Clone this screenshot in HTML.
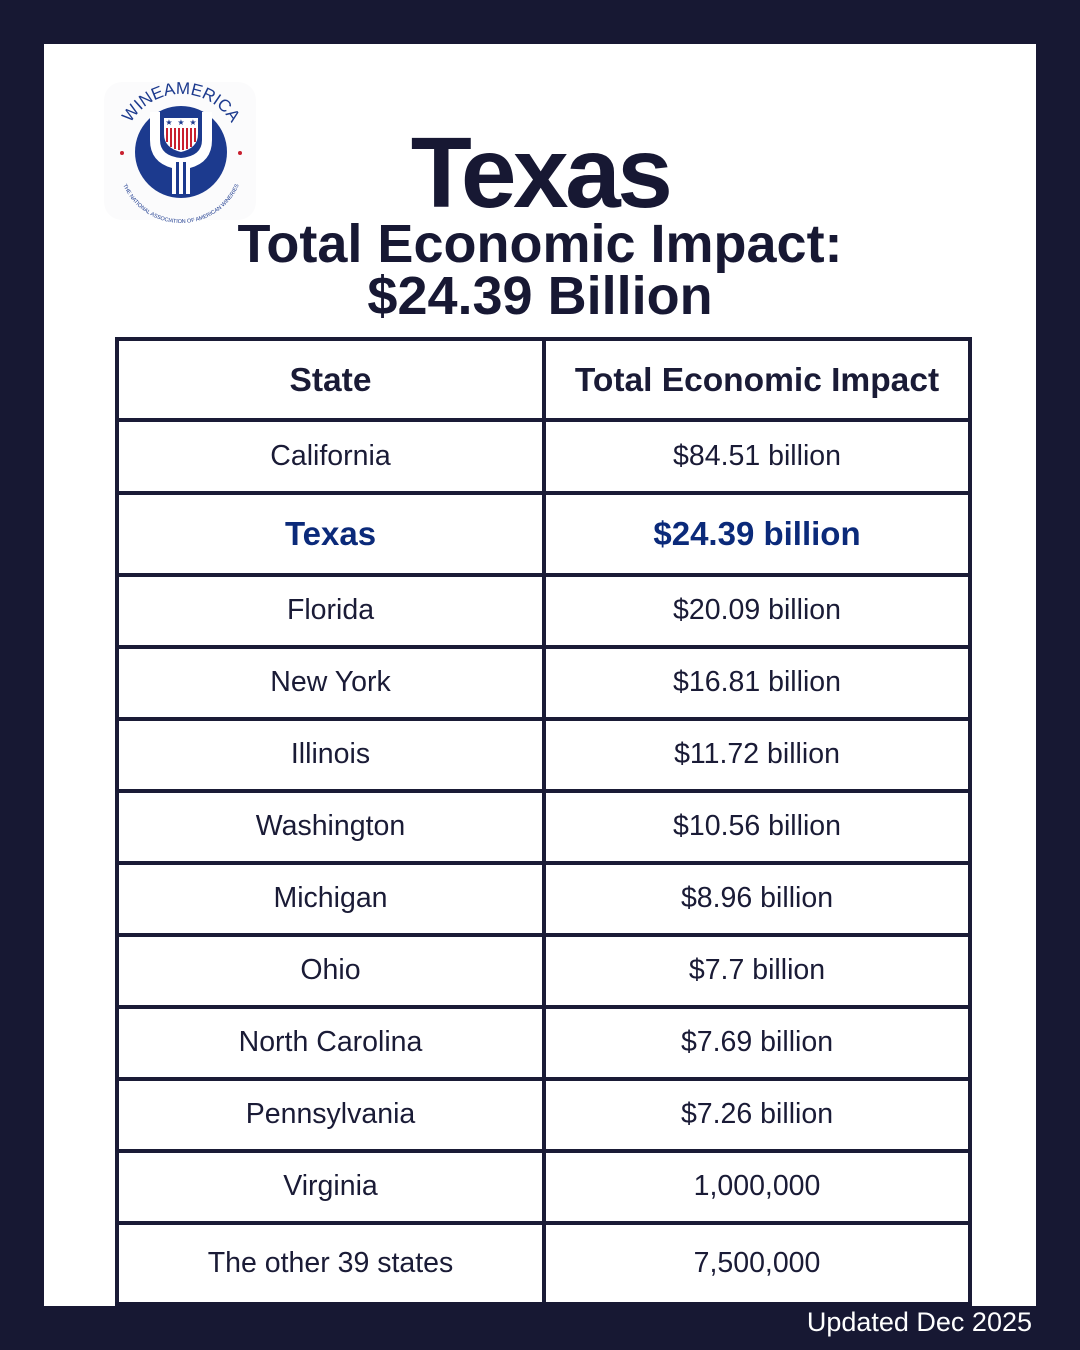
<!DOCTYPE html>
<html>
<head>
<meta charset="utf-8">
<style>
  html, body { margin:0; padding:0; }
  body { width:1080px; height:1350px; background:#171833; position:relative; overflow:hidden;
         font-family:"Liberation Sans", "DejaVu Sans", sans-serif; color:#1a1b36; }
  .abs { position:absolute; }
  .panel { left:44px; top:44px; width:992px; height:1262px; background:#ffffff; }
  .hl { position:absolute; left:115px; width:857px; height:4px; background:#1a1b36; }
  .vl { position:absolute; top:337px; width:4px; height:970px; background:#1a1b36; }
  .cell { position:absolute; text-align:center; white-space:nowrap; }
  .c1 { left:119px; width:423px; }
  .c2 { left:546px; width:422px; }
  .body { font-size:28.5px; line-height:40px; }
  .head { font-size:33.5px; font-weight:bold; line-height:40px; }
  .tx { font-size:33px; font-weight:bold; line-height:40px; color:#0b2a7a; }
</style>
</head>
<body>
<div class="abs panel"></div>

<!-- Logo -->
<svg class="abs" style="left:100px;top:78px" width="160" height="145" viewBox="100 78 160 145">
  <defs>
    <path id="arcTop" d="M 123,152 A 58 58 0 0 1 239,152"/>
    <path id="arcBot" d="M 118,160 A 63 63 0 0 0 244,160"/>
  </defs>
  <rect x="104" y="82" width="152" height="138" rx="18" fill="#fbfbfc"/>
  <circle cx="181" cy="152" r="46" fill="#1c3a8e"/>
  <!-- glass outline -->
  <path d="M150,112 L150,140 Q150,162 172,168 L172,194 L190,194 L190,168 Q212,162 212,140 L212,112 L202,112 L202,140 Q202,156 181,158 Q160,156 160,140 L160,112 Z" fill="#ffffff"/>
  <rect x="176" y="162" width="3" height="32" fill="#1c3a8e"/>
  <rect x="183" y="162" width="3" height="32" fill="#1c3a8e"/>
  <!-- shield -->
  <path d="M164,118 L198,118 L198,134 Q198,148 181,152 Q164,148 164,134 Z" fill="#ffffff"/>
  <g fill="#c8202f">
    <rect x="166" y="128" width="2" height="14"/>
    <rect x="170" y="128" width="2" height="19"/>
    <rect x="174" y="128" width="2" height="21"/>
    <rect x="178" y="128" width="2" height="22"/>
    <rect x="182" y="128" width="2" height="22"/>
    <rect x="186" y="128" width="2" height="21"/>
    <rect x="190" y="128" width="2" height="19"/>
    <rect x="194" y="128" width="2" height="14"/>
  </g>
  <g fill="#1c3a8e" font-size="8" font-family="DejaVu Sans, sans-serif" text-anchor="middle">
    <text x="169" y="125">★</text><text x="181" y="125">★</text><text x="193" y="125">★</text>
  </g>
  <circle cx="122" cy="153" r="2" fill="#c8202f"/>
  <circle cx="240" cy="153" r="2" fill="#c8202f"/>
  <text font-family="Liberation Sans, sans-serif" font-size="17" fill="#1c3a8e">
    <textPath href="#arcTop" startOffset="50%" text-anchor="middle">WINEAMERICA</textPath>
  </text>
  <text font-family="Liberation Sans, sans-serif" font-size="5.5" fill="#1c3a8e">
    <textPath href="#arcBot" startOffset="50%" text-anchor="middle">THE NATIONAL ASSOCIATION OF AMERICAN WINERIES</textPath>
  </text>
</svg>

<!-- Titles -->
<div class="abs" style="left:240px;width:600px;top:118px;text-align:center;font-size:100px;font-weight:bold;line-height:110px;letter-spacing:-3.5px;color:#171833;">Texas</div>
<div class="abs" style="left:140px;width:800px;top:218px;text-align:center;font-size:54px;font-weight:bold;line-height:52px;color:#171833;">Total Economic Impact:<br>$24.39 Billion</div>

<!-- Table lines -->
<div class="hl" style="top:337px"></div>
<div class="hl" style="top:418px"></div>
<div class="hl" style="top:491px"></div>
<div class="hl" style="top:573px"></div>
<div class="hl" style="top:645px"></div>
<div class="hl" style="top:717px"></div>
<div class="hl" style="top:789px"></div>
<div class="hl" style="top:861px"></div>
<div class="hl" style="top:933px"></div>
<div class="hl" style="top:1005px"></div>
<div class="hl" style="top:1077px"></div>
<div class="hl" style="top:1149px"></div>
<div class="hl" style="top:1221px"></div>
<div class="vl" style="left:115px"></div>
<div class="vl" style="left:542px"></div>
<div class="vl" style="left:968px"></div>
<div class="abs" style="left:115px;top:1302px;width:857px;height:10px;background:#171833"></div>

<!-- Header -->
<div class="cell c1 head" style="top:361px">State</div>
<div class="cell c2 head" style="top:361px">Total Economic Impact</div>

<!-- Rows -->
<div class="cell c1 body" style="top:436px">California</div>
<div class="cell c2 body" style="top:436px">$84.51 billion</div>

<div class="cell c1 tx" style="top:514px">Texas</div>
<div class="cell c2 tx" style="top:514px">$24.39 billion</div>

<div class="cell c1 body" style="top:590px">Florida</div>
<div class="cell c2 body" style="top:590px">$20.09 billion</div>

<div class="cell c1 body" style="top:662px">New York</div>
<div class="cell c2 body" style="top:662px">$16.81 billion</div>

<div class="cell c1 body" style="top:734px">Illinois</div>
<div class="cell c2 body" style="top:734px">$11.72 billion</div>

<div class="cell c1 body" style="top:806px">Washington</div>
<div class="cell c2 body" style="top:806px">$10.56 billion</div>

<div class="cell c1 body" style="top:878px">Michigan</div>
<div class="cell c2 body" style="top:878px">$8.96 billion</div>

<div class="cell c1 body" style="top:950px">Ohio</div>
<div class="cell c2 body" style="top:950px">$7.7 billion</div>

<div class="cell c1 body" style="top:1022px">North Carolina</div>
<div class="cell c2 body" style="top:1022px">$7.69 billion</div>

<div class="cell c1 body" style="top:1094px">Pennsylvania</div>
<div class="cell c2 body" style="top:1094px">$7.26 billion</div>

<div class="cell c1 body" style="top:1166px">Virginia</div>
<div class="cell c2 body" style="top:1166px">1,000,000</div>

<div class="cell c1 body" style="top:1243px">The other 39 states</div>
<div class="cell c2 body" style="top:1243px">7,500,000</div>

<!-- Footer -->
<div class="abs" style="right:48px;top:1305px;font-size:27px;line-height:34px;color:#ffffff;white-space:nowrap;">Updated Dec 2025</div>
</body>
</html>
